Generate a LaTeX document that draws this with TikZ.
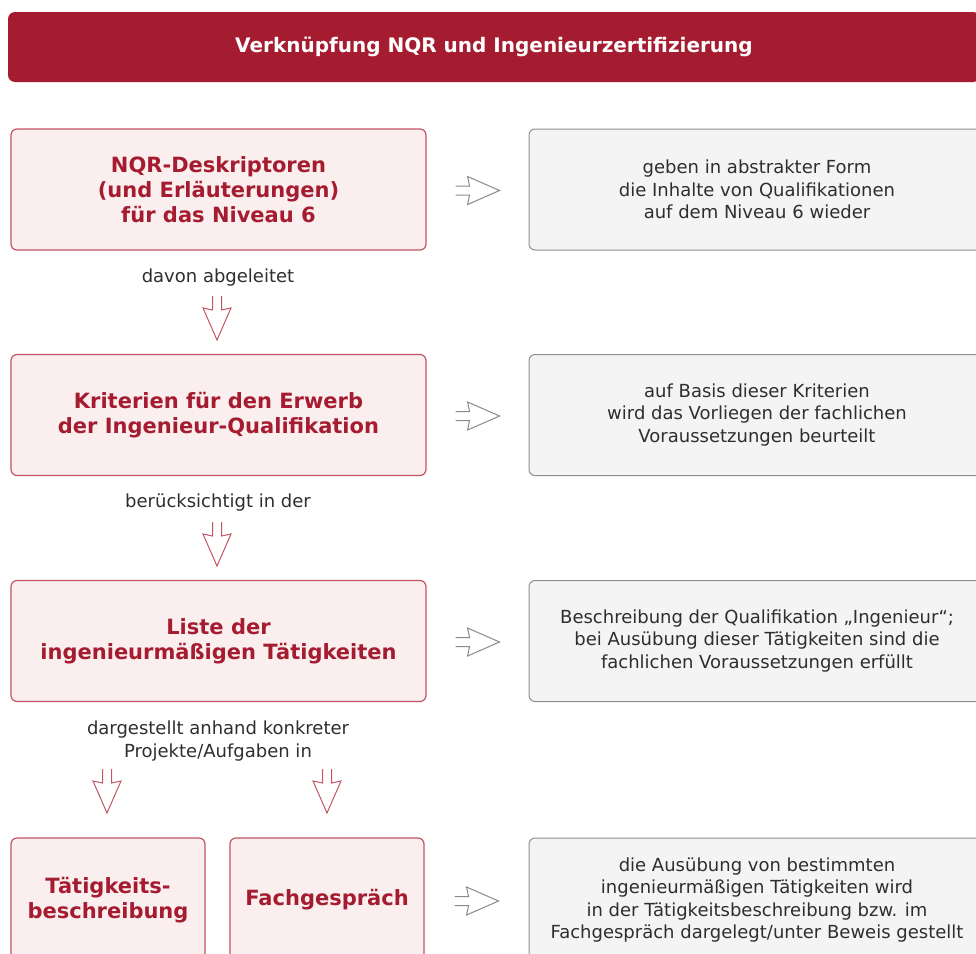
\documentclass[tikz,border=0pt]{standalone}
\usepackage{fontspec}
\setmainfont{DejaVu Sans}
\usetikzlibrary{positioning,calc}

\definecolor{nqrred}{HTML}{A51C30}
\definecolor{boxred}{HTML}{C25563}
\definecolor{boxpink}{HTML}{FAEEEE}
\definecolor{notegray}{HTML}{F4F4F4}
\definecolor{noteline}{HTML}{8F8F8F}
\definecolor{arrgray}{HTML}{8A8A8A}

\tikzset{
	redbox/.style={draw=boxred, fill=boxpink, rounded corners=6pt, line width=1.2pt,
		text=nqrred, font=\bfseries\fontsize{21}{25}\selectfont, align=center, inner sep=0pt},
	notebox/.style={draw=noteline, fill=notegray, rounded corners=6pt, line width=1pt,
		text=black!82, font=\fontsize{18}{22.5}\selectfont, align=center, inner sep=0pt},
	steplabel/.style={text=black!82, font=\fontsize{18}{22.5}\selectfont, align=center},
	pics/hollowarr/.style={code={
		\draw[line width=1pt, line join=miter] (-22,-4.5) -- (-8,-4.5) -- (-10,-14) -- (22,0)
			-- (-10,14) -- (-8,4.5) -- (-22,4.5);
	}}
}

\begin{document}
\begin{tikzpicture}[x=1pt,y=-1pt]
	\useasboundingbox (0,0) rectangle (976,953);
	\clip (0,0) rectangle (976,953);

	% The title bar
	\node[fill=nqrred, rounded corners=7pt, minimum width=972, minimum height=70, inner sep=0pt,
		text=white, font=\bfseries\fontsize{20}{24}\selectfont] (title) at (494,47)
		{Verknüpfung NQR und Ingenieurzertifizierung};

	% The red boxes
	\node[redbox, minimum width=415, minimum height=121] (nqr) at (218.5,189.5)
		{NQR-Deskriptoren\\(und Erläuterungen)\\für das Niveau 6};
	\node[redbox, minimum width=415, minimum height=121] (crit) at (218.5,415)
		{Kriterien für den Erwerb\\der Ingenieur-Qualifikation};
	\node[redbox, minimum width=415, minimum height=121] (list) at (218.5,641)
		{Liste der\\ingenieurmäßigen Tätigkeiten};
	\node[redbox, minimum width=194, minimum height=124] (desc) at (108,900)
		{Tätigkeits-\\beschreibung};
	\node[redbox, minimum width=194, minimum height=124] (talk) at (327,900)
		{Fachgespräch};

	% The grey notes
	\node[notebox, minimum width=456, minimum height=121] (nqrnote) at (757,189.5)
		{geben in abstrakter Form\\die Inhalte von Qualifikationen\\auf dem Niveau 6 wieder};
	\node[notebox, minimum width=456, minimum height=121] (critnote) at (757,415)
		{auf Basis dieser Kriterien\\wird das Vorliegen der fachlichen\\Voraussetzungen beurteilt};
	\node[notebox, minimum width=456, minimum height=121] (listnote) at (757,641)
		{Beschreibung der Qualifikation „Ingenieur“;\\bei Ausübung dieser Tätigkeiten sind die\\fachlichen Voraussetzungen erfüllt};
	\node[notebox, minimum width=456, minimum height=124] (talknote) at (757,900)
		{die Ausübung von bestimmten\\ingenieurmäßigen Tätigkeiten wird\\in der Tätigkeitsbeschreibung bzw. im\\Fachgespräch dargelegt/unter Beweis gestellt};

	% The step labels
	\node[steplabel] (derived) at (218,278) {davon abgeleitet};
	\node[steplabel] (regarded) at (218,503) {berücksichtigt in der};
	\node[steplabel] (shown) at (218,741) {dargestellt anhand konkreter\\Projekte/Aufgaben in};

	% The grey arrows to the notes
	\foreach \src/\dst in {nqr/nqrnote, crit/critnote, list/listnote, talk/talknote}
		\pic[color=arrgray] at ($(\src.east)!0.5!(\dst.west)+(0,1)$) {hollowarr};

	% The red arrows down
	\pic[color=boxred, rotate=-90] at (217,318) {hollowarr};
	\pic[color=boxred, rotate=-90] at (217,544) {hollowarr};
	\pic[color=boxred, rotate=-90] at (107,791) {hollowarr};
	\pic[color=boxred, rotate=-90] at (327,791) {hollowarr};

\end{tikzpicture}
\end{document}
